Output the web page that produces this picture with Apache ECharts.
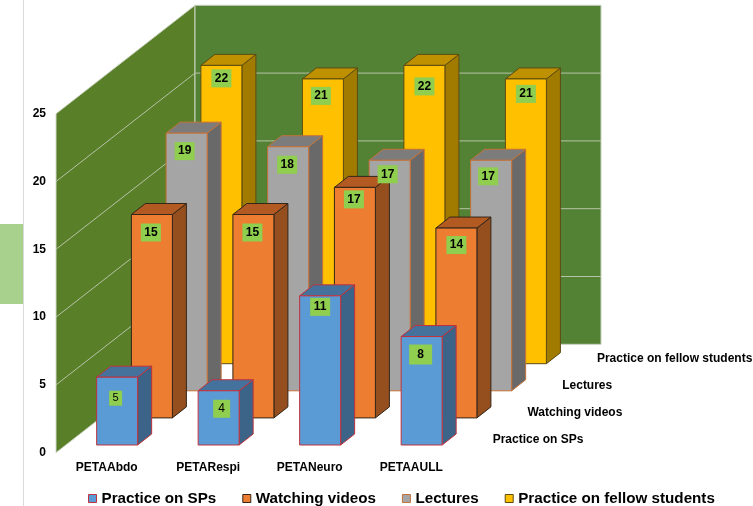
<!DOCTYPE html>
<html>
<head>
<meta charset="utf-8">
<style>html,body{margin:0;padding:0;background:#fff}#c{width:753px;height:506px}</style>
<script src="https://cdn.jsdelivr.net/npm/echarts@6/dist/echarts.min.js"></script>
</head>
<body>
<div id="c"></div>
<script>
// ---- data ----
const categories = ['PETAAbdo', 'PETARespi', 'PETANeuro', 'PETAAULL'];
const seriesNames = ['Practice on SPs', 'Watching videos', 'Lectures', 'Practice on fellow students'];
const practiceOnSPs = [5, 4, 11, 8];
const watchingVideos = [15, 15, 17, 14];
const lectures = [19, 18, 17, 17];
const fellowStudents = [22, 21, 22, 21];
const yTicks = [0, 5, 10, 15, 20, 25];

// ---- styling ----
const FONT = '"Liberation Sans", Arial, sans-serif';
const values = [practiceOnSPs, watchingVideos, lectures, fellowStudents];
const palette = [
  { front: '#5b9bd5', top: '#44729d', side: '#3b6488', stroke: '#c0323c' },
  { front: '#ed7d31', top: '#b25a22', side: '#954f1f', stroke: '#33261a' },
  { front: '#a5a5a5', top: '#7c7c7c', side: '#696969', stroke: '#c4723a' },
  { front: '#ffc000', top: '#bf9000', side: '#a07b00', stroke: '#5c4c12' }
];
// depth geometry (pixels)
const DX = 34.75, DY = 27.1, BAR_W = 41, SIDE_X = 14, SIDE_Y = 11, INSET_X = 10.4, INSET_Y = 7.7;
// label placement relative to the top-centre of a bar's front face: [dx, dy, boxW, boxH, fontSize, bold]
const labelLayout = [
  [[-1.5, 21, 13, 15, 11, false], [3, 18, 17, 18, 12, false], [0, 11, 20, 18, 12, true], [-1, 18, 23, 20, 12, true]],
  [[-1, 18, 20, 18, 12, true], [-1, 18, 20, 18, 12, true], [-1, 12, 20, 18, 12, true], [0, 17, 20, 18, 12, true]],
  [[-2, 18, 20, 18, 12, true], [-1, 18, 20, 18, 12, true], [-2, 14, 20, 18, 12, true], [-3, 16, 20, 18, 12, true]],
  [[0, 13, 20, 18, 12, true], [-2, 17, 20, 18, 12, true], [0, 21, 20, 18, 12, true], [0, 15, 20, 18, 12, true]]
];

function poly(points, fill, stroke, z2, w) {
  return { type: 'polygon', z2: z2, shape: { points: points },
    style: { fill: fill, stroke: stroke, lineWidth: w === undefined ? 1 : w } };
}

function wallItem(params, api) {
  const cs = params.coordSys;
  const tick = api.value(1);
  const y = api.coord([0, tick])[1];
  const D_X = DX * 4, D_Y = DY * 4;
  const x0 = cs.x, x1 = cs.x + cs.width;
  const kids = [];
  if (params.dataIndex === 0) {
    const yb = cs.y + cs.height, yt = cs.y;
    kids.push(poly([[x0, yb], [x0, yt], [x0 + D_X, yt - D_Y], [x0 + D_X, yb - D_Y]], '#5a7f29', '#d0d8c8', 0));
    kids.push(poly([[x0 + D_X, yt - D_Y], [x1 + D_X, yt - D_Y], [x1 + D_X, yb - D_Y], [x0 + D_X, yb - D_Y]], '#548235', '#c8d0c0', 0));
  }
  if (tick > 0 && tick < 25) {
    kids.push({ type: 'polyline', z2: 1,
      shape: { points: [[x0, y], [x0 + D_X, y - D_Y], [x1 + D_X, y - D_Y]] },
      style: { fill: null, stroke: '#b5c4a5', lineWidth: 1 } });
  }
  return { type: 'group', children: kids };
}

function depthLabelItem(params, api) {
  const cs = params.coordSys;
  const i = params.dataIndex;
  return { type: 'text', z2: 1, style: {
    text: seriesNames[i], x: cs.x + cs.width + 30.7 + i * DX, y: cs.y + cs.height - 13 - i * DY,
    align: 'left', verticalAlign: 'middle', fill: '#000', font: 'bold 12px ' + FONT } };
}

function barRenderer(si) {
  return function (params, api) {
    const c = palette[si];
    const top = api.coord([api.value(0), api.value(1)]);
    const base = api.coord([api.value(0), 0]);
    const off = INSET_X + si * DX, rise = INSET_Y + si * DY;
    const xl = top[0] + off - BAR_W / 2, xr = xl + BAR_W;
    const yt = top[1] - rise, yb = base[1] - rise;
    const z = 10 + (3 - si);
    const lay = labelLayout[si][params.dataIndex];
    const lx = (xl + xr) / 2 + lay[0], ly = yt + lay[1];
    return { type: 'group', children: [
      poly([[xr, yt], [xr + SIDE_X, yt - SIDE_Y], [xr + SIDE_X, yb - SIDE_Y], [xr, yb]], c.side, c.stroke, z),
      poly([[xl, yt], [xl + SIDE_X, yt - SIDE_Y], [xr + SIDE_X, yt - SIDE_Y], [xr, yt]], c.top, c.stroke, z),
      poly([[xl, yt], [xr, yt], [xr, yb], [xl, yb]], c.front, c.stroke, z),
      { type: 'rect', z2: 100, shape: { x: lx - lay[2] / 2, y: ly - lay[3] / 2, width: lay[2], height: lay[3] },
        style: { fill: '#8fce4e' } },
      { type: 'text', z2: 101, style: { text: String(api.value(1)), x: lx, y: ly, align: 'center', verticalAlign: 'middle',
        fill: '#000', font: (lay[5] ? 'bold ' : '') + lay[4] + 'px ' + FONT } }
    ] };
  };
}

const barSeries = seriesNames.map(function (name, si) {
  return {
    name: name, type: 'custom', coordinateSystem: 'cartesian2d', clip: false, silent: true, z: 5,
    itemStyle: { color: palette[si].front, borderColor: palette[si].stroke, borderWidth: 1 },
    encode: { x: 0, y: 1 },
    data: values[si].map(function (v, i) { return [i, v]; }),
    renderItem: barRenderer(si)
  };
}).reverse();

const chart = echarts.init(document.getElementById('c'), null, { renderer: 'canvas' });
chart.setOption({
  animation: false,
  backgroundColor: '#fff',
  textStyle: { fontFamily: FONT },
  grid: { left: 56, top: 113.7, width: 406, height: 339, containLabel: false },
  xAxis: { type: 'category', data: categories, axisLine: { show: false }, axisTick: { show: false },
    axisLabel: { color: '#000', fontWeight: 'bold', fontSize: 12, margin: 9, fontFamily: FONT, interval: 0 } },
  yAxis: { type: 'value', min: yTicks[0], max: yTicks[yTicks.length - 1], interval: 5, axisLine: { show: false }, axisTick: { show: false },
    splitLine: { show: false }, axisLabel: { color: '#000', fontWeight: 'bold', fontSize: 12, margin: 10, fontFamily: FONT } },
  legend: {
    left: 88, top: 491, padding: 0, itemWidth: 8, itemHeight: 8, itemGap: 26, icon: 'rect',
    textStyle: { color: '#000', fontWeight: 'bold', fontSize: 15.2, fontFamily: FONT },
    data: seriesNames.map(function (n, i) {
      return { name: n, itemStyle: { color: palette[i].front, borderColor: palette[i].stroke, borderWidth: 1 } };
    })
  },
  graphic: [
    { type: 'rect', z: 0, shape: { x: 0, y: 224, width: 23, height: 80 }, style: { fill: '#a9d18e' } },
    { type: 'line', z: 0, shape: { x1: 23.5, y1: 0, x2: 23.5, y2: 506 }, style: { stroke: '#d9d9d9', lineWidth: 1 } }
  ],
  series: [
    { type: 'custom', name: '_wall', coordinateSystem: 'cartesian2d', clip: false, silent: true, z: 1,
      encode: { x: 0, y: 1 }, data: yTicks.map(function (t) { return [0, t]; }), renderItem: wallItem },
    { type: 'custom', name: '_depth', coordinateSystem: 'cartesian2d', clip: false, silent: true, z: 1,
      encode: { x: 0, y: 1 }, data: seriesNames.map(function () { return [0, 0]; }), renderItem: depthLabelItem }
  ].concat(barSeries)
});
</script>
</body>
</html>
